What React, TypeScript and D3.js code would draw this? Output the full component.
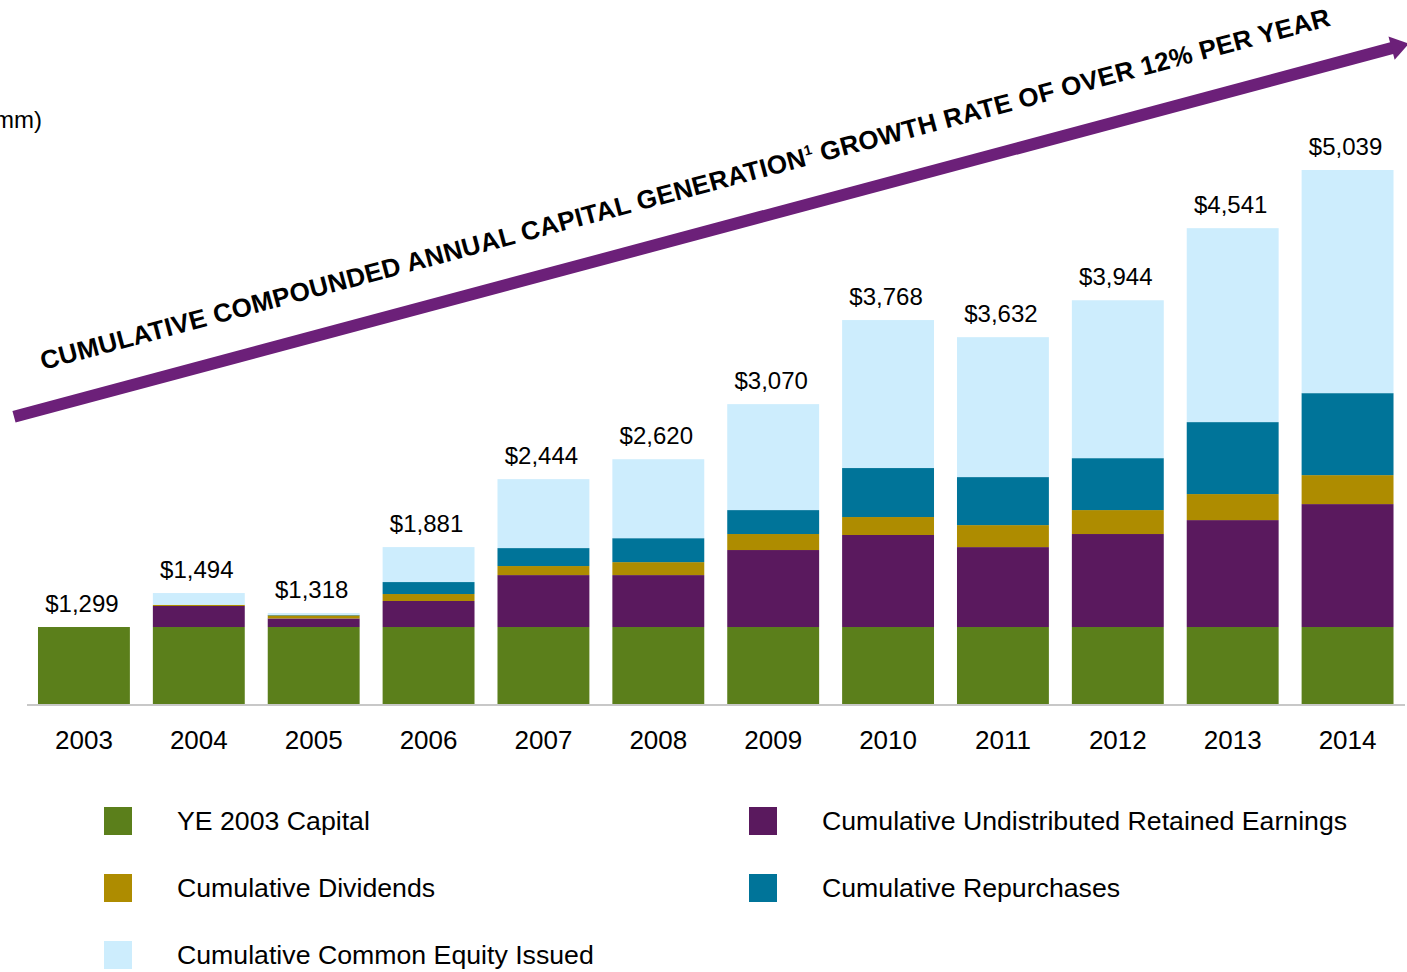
import * as d3 from 'd3';
import React from 'react';

const years = ['2003', '2004', '2005', '2006', '2007', '2008', '2009', '2010', '2011', '2012', '2013', '2014'];
const totals = ['$1,299', '$1,494', '$1,318', '$1,881', '$2,444', '$2,620', '$3,070', '$3,768', '$3,632', '$3,944', '$4,541', '$5,039'];

// segment values in $mm
const capital2003 = [1299, 1299, 1299, 1299, 1299, 1299, 1299, 1299, 1299, 1299, 1299, 1299];
const retained = [0, 172, 70, 213, 425, 425, 630, 753, 654, 761, 875, 1006];
const dividends = [0, 10, 25, 57, 74, 106, 131, 147, 180, 196, 213, 237];
const repurchases = [0, 0, 4, 98, 147, 196, 196, 401, 393, 425, 589, 671];
const equityIssued = [0, 96, 16, 286, 564, 646, 867, 1211, 1145, 1292, 1587, 1833];

const seriesKeys = ['capital', 'retained', 'dividends', 'repurchases', 'equity'];
const seriesNames = [
  'YE 2003 Capital',
  'Cumulative Undistributed Retained Earnings',
  'Cumulative Dividends',
  'Cumulative Repurchases',
  'Cumulative Common Equity Issued',
];
const colors = ['#5b7f1b', '#5a195e', '#ae8c00', '#007499', '#cdedfd'];

const title = 'CUMULATIVE COMPOUNDED ANNUAL CAPITAL GENERATION';
const title2 = ' GROWTH RATE OF OVER 12% PER YEAR';

const W = 1407;
const H = 972;
const font = '"Liberation Sans", Arial, sans-serif';

export default function App() {
  const rows = years.map((y, i) => ({
    year: y,
    capital: capital2003[i],
    retained: retained[i],
    dividends: dividends[i],
    repurchases: repurchases[i],
    equity: equityIssued[i],
  }));

  const stacked = d3.stack<any>().keys(seriesKeys)(rows);

  const x = d3.scaleBand().domain(years).range([26.5, 1405]).paddingInner(0.2).paddingOuter(0.1);
  // axis is truncated: the base capital block is drawn short
  const y = d3.scaleLinear().domain([669, 5039]).range([704, 170]).clamp(true);

  // arrow geometry
  const ax0 = 14, ay0 = 416.7;
  const ang = Math.atan2(-0.2675, 1);
  const deg = (ang * 180) / Math.PI;
  const arrowLen = 1430;

  const legendPos = [
    [104, 821],
    [749, 821],
    [104, 888],
    [749, 888],
    [104, 955],
  ];

  return (
    <div style={{ position: 'absolute', left: 0, top: 0 }}>
      <svg width={W} height={H} style={{ display: 'block', background: 'white' }}>
        <text x={42} y={128} textAnchor="end" fontFamily={font} fontSize={24} fill="#000">
          ($ in mm)
        </text>

        {stacked.map((s, si) => (
          <g key={seriesKeys[si]} fill={colors[si]}>
            {s.map((d, i) => (
              <rect
                key={years[i]}
                x={x(years[i])}
                width={x.bandwidth()}
                y={y(d[1])}
                height={Math.max(0, y(d[0]) - y(d[1]))}
              />
            ))}
          </g>
        ))}

        <line x1={27} x2={1405} y1={705} y2={705} stroke="#c8c8c8" strokeWidth={2} />

        {years.map((yr, i) => {
          const top = stacked[stacked.length - 1][i][1];
          return (
            <g key={yr} fontFamily={font} textAnchor="middle" fill="#000">
              <text x={x(yr)! + x.bandwidth() / 2 - 2} y={y(top) - 15} fontSize={24}>
                {totals[i]}
              </text>
              <text x={x(yr)! + x.bandwidth() / 2} y={749} fontSize={26}>
                {yr}
              </text>
            </g>
          );
        })}

        {/* growth arrow */}
        <g transform={`translate(${ax0},${ay0}) rotate(${deg})`}>
          <line x1={0} y1={0} x2={arrowLen} y2={0} stroke="#6c2079" strokeWidth={12} />
          <polygon points={`${arrowLen - 4},-12 ${arrowLen + 14},0 ${arrowLen - 4},12`} fill="#6c2079" />
          <text
            x={40}
            y={-37.6}
            fontFamily={font}
            fontWeight="bold"
            fontSize={26}
            fill="#000"
            textLength={1334}
            lengthAdjust="spacing"
          >
            {title}
            <tspan fontSize={14} dy={-10}>1</tspan>
            <tspan dy={10}>{title2}</tspan>
          </text>
        </g>

        {seriesNames.map((name, i) => (
          <g key={name} fontFamily={font}>
            <rect x={legendPos[i][0]} y={legendPos[i][1] - 14} width={28} height={28} fill={colors[i]} />
            <text x={legendPos[i][0] + 73} y={legendPos[i][1] + 9} fontSize={26.7} fill="#000">
              {name}
            </text>
          </g>
        ))}
      </svg>
    </div>
  );
}
